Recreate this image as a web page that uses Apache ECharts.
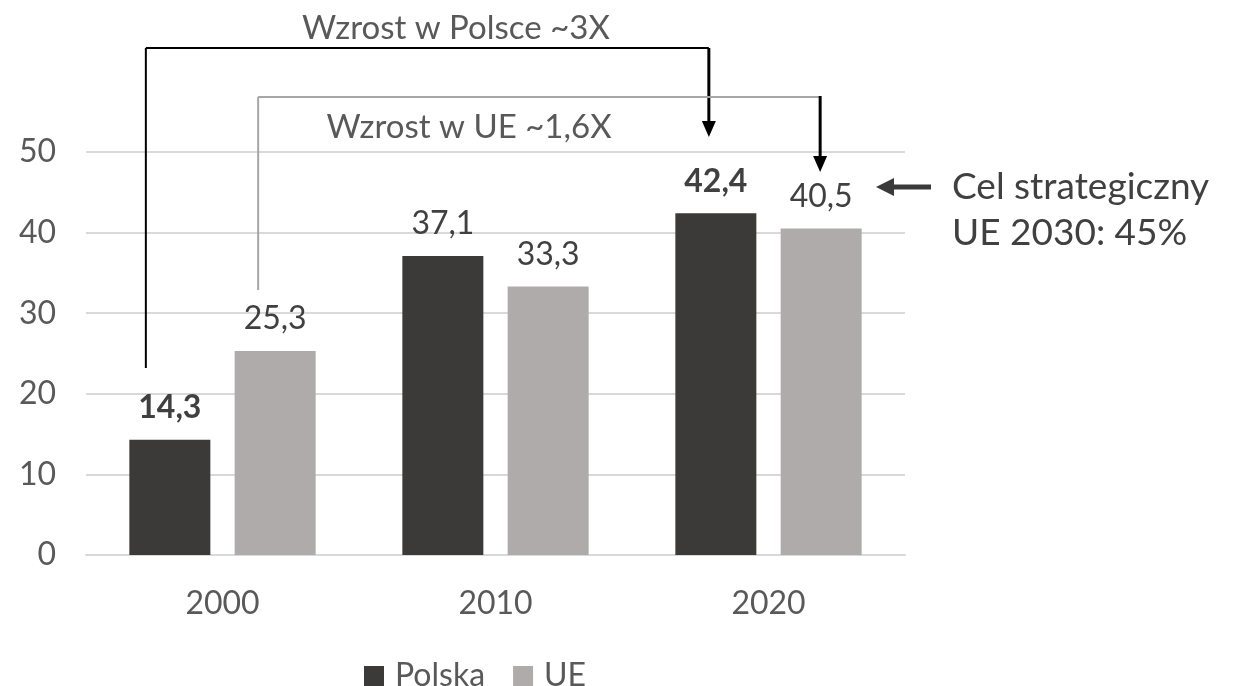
<!DOCTYPE html>
<html>
<head>
<meta charset="utf-8">
<script src="https://cdn.jsdelivr.net/npm/echarts@6/dist/echarts.min.js"></script>
<style>
  html, body { margin: 0; padding: 0; background: #fff; }
  #chart { width: 1233px; height: 686px; }
</style>
</head>
<body>
<div id="chart"></div>
<script>
// dane
const years = ['2000', '2010', '2020'];
const polska = [14.3, 37.1, 42.4];
const ue = [25.3, 33.3, 40.5];
const boldPolska = [true, false, true];
const yMin = 0, yMax = 50, yStep = 10;

const FONT = 'Lato';
const TXT = '#595959';
const BAR_W = 81;
const BAR_GAP = 0.3;

const fmt = v => String(v).replace('.', ',');

const chart = echarts.init(document.getElementById('chart'));

chart.setOption({
  backgroundColor: '#fff',
  color: ['#3b3a38', '#afabaa'],
  textStyle: { fontFamily: FONT },
  animation: false,
  grid: { left: 86, right: 328, top: 152, bottom: 131 },
  legend: {
    left: 359,
    top: 655,
    itemWidth: 20,
    itemHeight: 20,
    itemGap: 28,
    icon: 'rect',
    textStyle: { fontSize: 32, color: TXT, fontFamily: FONT, padding: [0, 0, 0, 6] },
    data: ['Polska', 'UE']
  },
  xAxis: {
    type: 'category',
    data: years,
    axisTick: { show: false },
    axisLine: { show: true, lineStyle: { color: '#d9d9d9', width: 2 } },
    axisLabel: { color: TXT, fontSize: 32, margin: 33, fontFamily: FONT }
  },
  yAxis: {
    type: 'value',
    min: yMin,
    max: yMax,
    interval: yStep,
    axisLine: { show: false },
    axisTick: { show: false },
    axisLabel: { color: TXT, fontSize: 32, margin: 30, fontFamily: FONT },
    splitLine: { lineStyle: { color: '#d9d9d9', width: 2 } }
  },
  series: [
    {
      name: 'Polska',
      type: 'bar',
      barWidth: BAR_W,
      barGap: (BAR_GAP * 100) + '%',
      data: polska.map((v, i) => ({
        value: v,
        label: { fontWeight: boldPolska[i] ? 'bold' : 'normal' }
      })),
      label: {
        show: true, position: 'top', distance: 16,
        fontSize: 32, color: '#404040', fontFamily: FONT,
        formatter: p => fmt(p.value)
      }
    },
    {
      name: 'UE',
      type: 'bar',
      barWidth: BAR_W,
      data: ue,
      label: {
        show: true, position: 'top', distance: 16,
        fontSize: 32, color: '#404040', fontFamily: FONT,
        formatter: p => fmt(p.value)
      }
    }
  ]
});

// adnotacje (strzałki, opisy)
const off = (BAR_W + BAR_W * BAR_GAP) / 2;
const catX = i => chart.convertToPixel({ gridIndex: 0 }, [i, 0])[0];
const barX = (i, s) => catX(i) + (s === 0 ? -off : off);

const elems = [];
function seg(x1, y1, x2, y2, color, w) {
  elems.push({ type: 'line', z: 10, shape: { x1, y1, x2, y2 }, style: { stroke: color, lineWidth: w } });
}
function headDown(x, y, color) {
  elems.push({ type: 'polygon', z: 10, shape: { points: [[x - 7, y - 16], [x + 7, y - 16], [x, y]] }, style: { fill: color } });
}
function text(t, x, y, align, size) {
  elems.push({
    type: 'text', z: 10,
    style: { text: t, x, y, align, verticalAlign: 'middle', fill: TXT, font: size + 'px ' + FONT }
  });
}

// Polska
const b0 = barX(0, 0) - 24, b1 = barX(2, 0) - 7;
seg(b0, 368, b0, 48, '#000', 2);
seg(b0, 48, b1, 48, '#000', 2);
seg(b1, 48, b1, 124, '#000', 3);
headDown(b1, 137, '#000');
text('Wzrost w Polsce ~3X', 456, 28, 'center', 33);

// UE
const g0 = barX(0, 1) - 17, g1 = barX(2, 1) - 1;
seg(g0, 290, g0, 97, '#a6a6a6', 2);
seg(g0, 97, g1, 97, '#a6a6a6', 2);
seg(g1, 96, g1, 159, '#000', 3);
headDown(g1, 172, '#000');
text('Wzrost w UE ~1,6X', 469, 127, 'center', 33);

// cel 2030
seg(891, 187, 931, 187, '#3a3a3a', 5);
elems.push({ type: 'polygon', z: 10, shape: { points: [[876, 187], [894, 178], [894, 196]] }, style: { fill: '#3a3a3a' } });
elems.push({
  type: 'text', z: 10,
  style: { text: 'Cel strategiczny\nUE 2030: 45%', x: 952, y: 164, align: 'left', verticalAlign: 'top', lineHeight: 46, fill: '#404040', font: '37px ' + FONT }
});

chart.setOption({ graphic: elems });
</script>
</body>
</html>
